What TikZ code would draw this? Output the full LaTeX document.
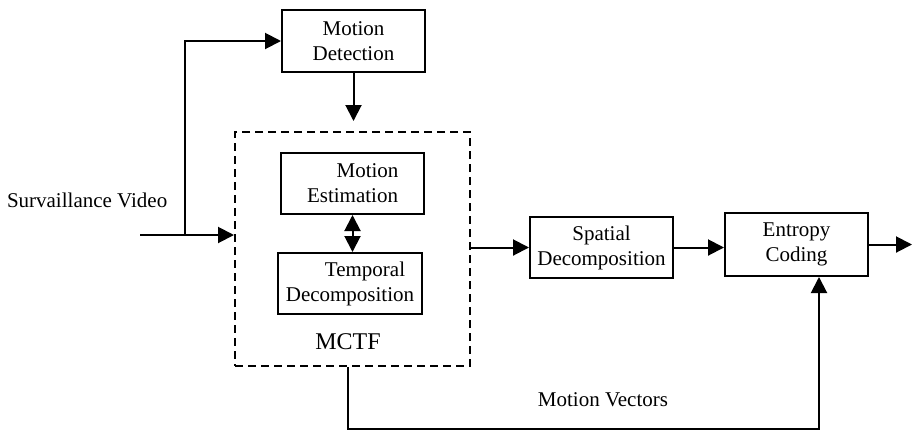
\documentclass[tikz,border=0pt]{standalone}
\usepackage{fontspec}
\setmainfont{Liberation Serif}
\usepackage{tikz}
\usetikzlibrary{arrows.meta,positioning,calc}

\begin{document}
\begin{tikzpicture}[->,>={Triangle[length=16pt,width=16pt]},x=1pt,y=-1pt,
           line width=2pt, font=\fontsize{21}{25}\selectfont,
           blk/.style={draw,-,align=center,inner sep=0pt,minimum width=143pt,minimum height=61pt}]
          \useasboundingbox (0,0) rectangle (913,432);
          \node[blk,minimum height=62pt] (detect) at (353.5, 41) {Motion\\Detection};
          \node[draw,-,dashed,dash pattern=on 8pt off 5pt,minimum width=235pt,minimum height=234pt] (mctf) at (352.5, 249) {};
          \node[blk] (estim) at (352.5, 183.5) {\hspace*{30pt}Motion\\Estimation};
          \node[blk,minimum width=144pt] (temporal) at (350, 283.5) {\hspace*{30pt}Temporal\\Decomposition};
          \node[font=\fontsize{24}{28}\selectfont] (mctflabel) at (348, 342) {MCTF};
          \node[blk] (spatial) at (601.5, 247.5) {Spatial\\Decomposition};
          \node[blk,minimum height=63pt] (entropy) at (796.5, 244.5) {Entropy\\Coding};
          \node[anchor=base west,inner sep=0pt] (video) at (6, 207) {Survaillance Video};
          \node (vectors) at (603, 400) {Motion Vectors};
          \coordinate (in) at (140, 235);
          \coordinate (split) at (185, 235);
          \coordinate (out) at (912, 244.5);
          \coordinate (mvdown) at (348, 429);
          \coordinate (mvup) at (819, 429);
          % input goes both to the detector and into MCTF
          \draw (in) -- (in -| mctf.west);
          \draw (split) |- (detect.west);
          \draw[shorten >=10pt] (detect.south) -- (detect.south |- mctf.north);
          \draw[<->] (estim.south) -- (estim.south |- temporal.north);
          \draw (mctf.east |- spatial) -- (spatial.west);
          \draw (spatial.east) -- (spatial.east -| entropy.west);
          \draw (entropy.east) -- (out);
          % motion vectors bypass the spatial stage
          \draw (mctf.south -| mvdown) -- (mvdown) -- (mvup) -- (mvup |- entropy.south);
         \end{tikzpicture}
\end{document}
